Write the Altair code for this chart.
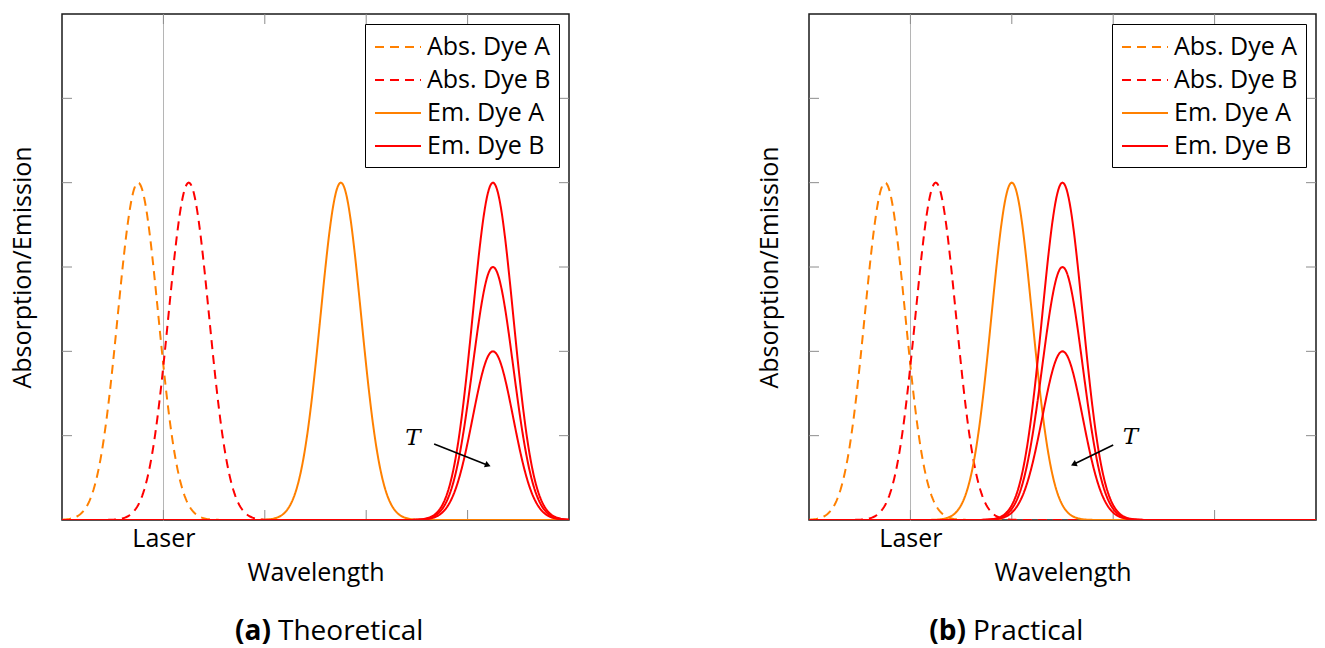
import altair as alt
import numpy as np
import pandas as pd

# ---- data ----
series_names = ["Abs. Dye A", "Abs. Dye B", "Em. Dye A", "Em. Dye B"]
series_colors = ["#ff8000", "#ff0000", "#ff8000", "#ff0000"]
series_dash = [[9, 6], [9, 6], [1, 0], [1, 0]]

sigma = 0.2                      # common peak width (wavelength units)
peak_heights = [4.0, 4.0, 4.0]   # Abs A, Abs B, Em A
em_b_heights = [4.0, 3.0, 2.0]   # Em B at increasing T

theo_centers = [0.75, 1.25, 2.75, 4.25]
prac_centers = [0.75, 1.25, 2.00, 2.50]

x_ticks = [1, 2, 3, 4]
y_ticks = [1, 2, 3, 4, 5]
laser_pos = [1]

# annotation "T" arrows: text x,y ; arrow start x,y ; arrow end x,y
theo_arrow = dict(tx=3.46, ty=0.97, x=3.67, y=0.90, x2=4.20, y2=0.65, angle=21)
prac_arrow = dict(tx=3.17, ty=0.98, x=3.00, y=0.89, x2=2.61, y2=0.66, angle=155)

W, H = 507, 506
FONT = "Open Sans"
FS = 25


def curves(centers):
    xs = np.linspace(0, 5, 501)
    rows = []
    for i, name in enumerate(series_names):
        heights = em_b_heights if name == "Em. Dye B" else [peak_heights[i]]
        for k, a in enumerate(heights):
            ys = a * np.exp(-((xs - centers[i]) ** 2) / (2 * sigma ** 2))
            for xv, yv in zip(xs, ys):
                rows.append({"x": xv, "y": yv, "series": name, "curve": f"{name}-{k}"})
    return pd.DataFrame(rows)


def panel(centers, arrow, bold_txt, txt, bold_right):
    X = alt.X("x:Q", scale=alt.Scale(domain=[0, 5], nice=False, zero=False),
              axis=alt.Axis(title="Wavelength", values=laser_pos, labelExpr="'Laser'",
                            ticks=False, domain=False, grid=True, gridColor="#b5b5b5",
                            gridWidth=1, labelFontSize=FS, labelFont=FONT, labelColor="black",
                            labelPadding=6, titleFontSize=FS, titleFont=FONT,
                            titleFontWeight="normal", titleColor="black", titlePadding=9))
    Y = alt.Y("y:Q", scale=alt.Scale(domain=[0, 6], nice=False),
              axis=alt.Axis(title="Absorption/Emission", labels=False, ticks=False,
                            domain=False, grid=False, titleFontSize=FS, titleFont=FONT,
                            titleFontWeight="normal", titleColor="black", titlePadding=27))

    leg = alt.Legend(title=None, orient="top-right", offset=10, strokeColor="black",
                     fillColor="white", padding=8, labelFontSize=FS, labelFont=FONT,
                     labelColor="black", labelExpr="datum.label + '\u00a0\u00a0'",
                     symbolType="M-1.643,0H1.643", symbolSize=784,
                     symbolOffset=10, symbolStrokeWidth=2, rowPadding=5, labelOffset=14,
                     cornerRadius=0)

    lines = alt.Chart(curves(centers)).mark_line(strokeWidth=2, clip=True).encode(
        x=X, y=Y,
        color=alt.Color("series:N", scale=alt.Scale(domain=series_names, range=series_colors),
                        sort=series_names, legend=leg),
        strokeDash=alt.StrokeDash("series:N", scale=alt.Scale(domain=series_names, range=series_dash),
                                  sort=series_names, legend=leg),
        detail="curve:N",
        order=alt.Order("x:Q"),
    )

    xt = pd.DataFrame({"x": x_ticks})
    yt = pd.DataFrame({"y": y_ticks})
    tick_col = "#8c8c8c"
    t_bottom = alt.Chart(xt).mark_rule(color=tick_col).encode(x=X, y=alt.value(H), y2=alt.value(H - 10))
    t_top = alt.Chart(xt).mark_rule(color=tick_col).encode(x=X, y=alt.value(0), y2=alt.value(10))
    t_left = alt.Chart(yt).mark_rule(color=tick_col).encode(y=Y, x=alt.value(0), x2=alt.value(10))
    t_right = alt.Chart(yt).mark_rule(color=tick_col).encode(y=Y, x=alt.value(W - 10), x2=alt.value(W))

    adf = pd.DataFrame([arrow])
    a_line = alt.Chart(adf).mark_rule(color="black", strokeWidth=1.6).encode(
        x=X, y=Y, x2="x2:Q", y2="y2:Q")
    a_head = alt.Chart(adf).mark_point(shape="triangle-right", filled=True, size=45,
                                       color="black", opacity=1, angle=arrow["angle"]).encode(
        x=alt.X("x2:Q", scale=alt.Scale(domain=[0, 5], nice=False)),
        y=alt.Y("y2:Q", scale=alt.Scale(domain=[0, 6], nice=False)))
    a_text = alt.Chart(adf).mark_text(text="T", font="DejaVu Serif", fontStyle="italic",
                                      fontSize=23, color="black").encode(
        x=alt.X("tx:Q", scale=alt.Scale(domain=[0, 5], nice=False)),
        y=alt.Y("ty:Q", scale=alt.Scale(domain=[0, 6], nice=False)))

    one = pd.DataFrame({"k": [0]})
    cap_b = alt.Chart(one).mark_text(text=bold_txt, font=FONT, fontSize=28, fontWeight="bold",
                                     align="right", baseline="middle", color="black").encode(
        x=alt.value(bold_right), y=alt.value(618))
    cap_t = alt.Chart(one).mark_text(text=txt, font=FONT, fontSize=28,
                                     align="left", baseline="middle", color="black").encode(
        x=alt.value(bold_right + 7), y=alt.value(618))

    return alt.layer(t_bottom, t_top, t_left, t_right, lines, a_line, a_head, a_text,
                     cap_b, cap_t).properties(width=W, height=H)


left = panel(theo_centers, theo_arrow, "(a)", "Theoretical", 209)
right = panel(prac_centers, prac_arrow, "(b)", "Practical", 157)

chart = alt.hconcat(left, right, spacing=185).resolve_scale(
    color="independent", strokeDash="independent", x="independent", y="independent"
).configure_view(stroke="#1a1a1a", strokeWidth=1.5).properties(
    padding={"left": 9, "top": 12, "right": 5, "bottom": 5}, background="white")

chart.save("out.html", embed_options={"renderer": "svg", "actions": False})
